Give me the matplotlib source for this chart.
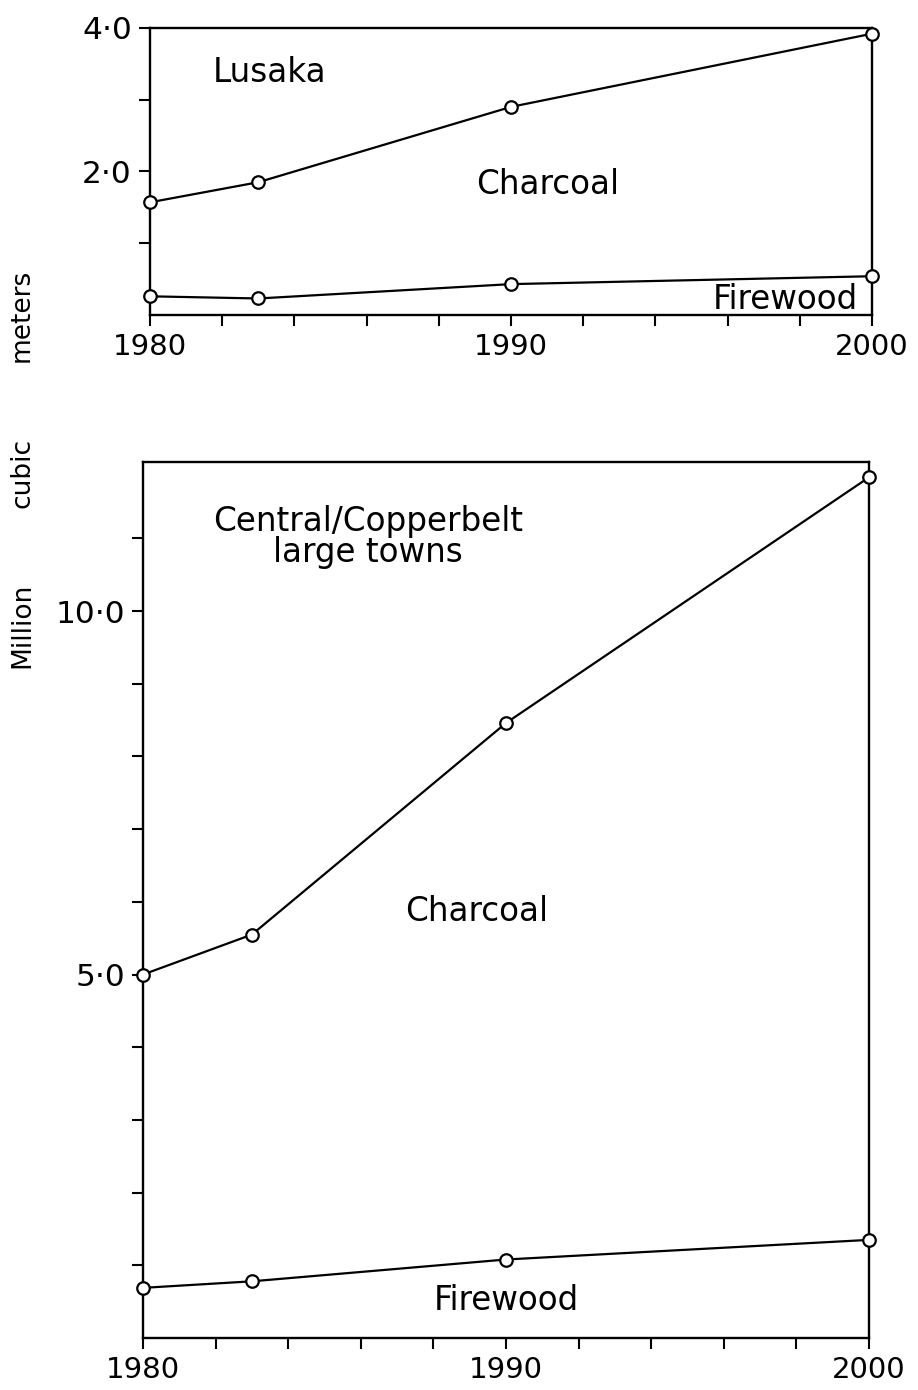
import matplotlib

matplotlib.use("Agg")
import matplotlib.pyplot as plt
from matplotlib.ticker import FixedLocator, FuncFormatter

# data (million cubic meters)
years = [1980, 1983, 1990, 2000]

lusaka_charcoal = [1.57, 1.85, 2.90, 3.92]
lusaka_firewood = [0.26, 0.23, 0.43, 0.54]

central_charcoal = [5.00, 5.55, 8.46, 11.84]
central_firewood = [0.69, 0.78, 1.08, 1.35]

year_major = [1980, 1990, 2000]
year_minor = [1982, 1984, 1986, 1988, 1992, 1994, 1996, 1998]

top_major = [2.0, 4.0]
top_minor = [1.0, 3.0]
bottom_major = [5.0, 10.0]
bottom_minor = [1, 2, 3, 4, 6, 7, 8, 9, 11]

FS = 21      # tick labels
TFS = 23.5   # annotations inside the panels
plt.rcParams["font.family"] = ["DejaVu Sans"]


def dot_fmt(v, _pos):
    return f"{v:.1f}".replace(".", "\u00b7")


def style_axes(ax, ymajor, yminor, ylim):
    ax.set_xlim(1980, 2000)
    ax.set_ylim(*ylim)
    ax.xaxis.set_major_locator(FixedLocator(year_major))
    ax.xaxis.set_minor_locator(FixedLocator(year_minor))
    ax.yaxis.set_major_locator(FixedLocator(ymajor))
    ax.yaxis.set_minor_locator(FixedLocator(yminor))
    ax.yaxis.set_major_formatter(FuncFormatter(dot_fmt))
    ax.tick_params(which="both", direction="out", length=8, width=1.5,
                   labelsize=FS, pad=5)
    ax.tick_params(axis="y", labelsize=FS + 1.5)
    for sp in ax.spines.values():
        sp.set_linewidth(1.7)


def draw(ax, charcoal, firewood):
    for vals in (charcoal, firewood):
        ax.plot(years, vals, color="black", lw=1.6, marker="o", ms=9,
                mfc="white", mec="black", mew=1.6, clip_on=False, zorder=3)


fig = plt.figure(figsize=(9.18, 13.9), dpi=100)

ax1 = fig.add_axes([0.1634, 0.7734, 0.7866, 0.2065])
draw(ax1, lusaka_charcoal, lusaka_firewood)
style_axes(ax1, top_major, top_minor, (0, 4.0))
ax1.text(1983.3, 3.38, "Lusaka", fontsize=TFS, ha="center", va="center")
ax1.text(1991.0, 1.82, "Charcoal", fontsize=TFS, ha="center", va="center")
ax1.text(1997.6, 0.22, "Firewood", fontsize=TFS, ha="center", va="center")

ax2 = fig.add_axes([0.1558, 0.0374, 0.7908, 0.6302])
draw(ax2, central_charcoal, central_firewood)
style_axes(ax2, bottom_major, bottom_minor, (0, 12.05))
ax2.text(1986.2, 11.23, "Central/Copperbelt", fontsize=TFS, ha="center",
         va="center")
ax2.text(1986.2, 10.81, "large towns", fontsize=TFS, ha="center", va="center")
ax2.text(1989.2, 5.87, "Charcoal", fontsize=TFS, ha="center", va="center")
ax2.text(1990.0, 0.51, "Firewood", fontsize=TFS, ha="center", va="center")

# y label split into spaced words as in the original
for word, fy in (("Million", 0.550), ("cubic", 0.660), ("meters", 0.773)):
    fig.text(0.024, fy, word, rotation=90, fontsize=19, ha="center",
             va="center")

fig.savefig("out.png", dpi=100)
plt.close(fig)
